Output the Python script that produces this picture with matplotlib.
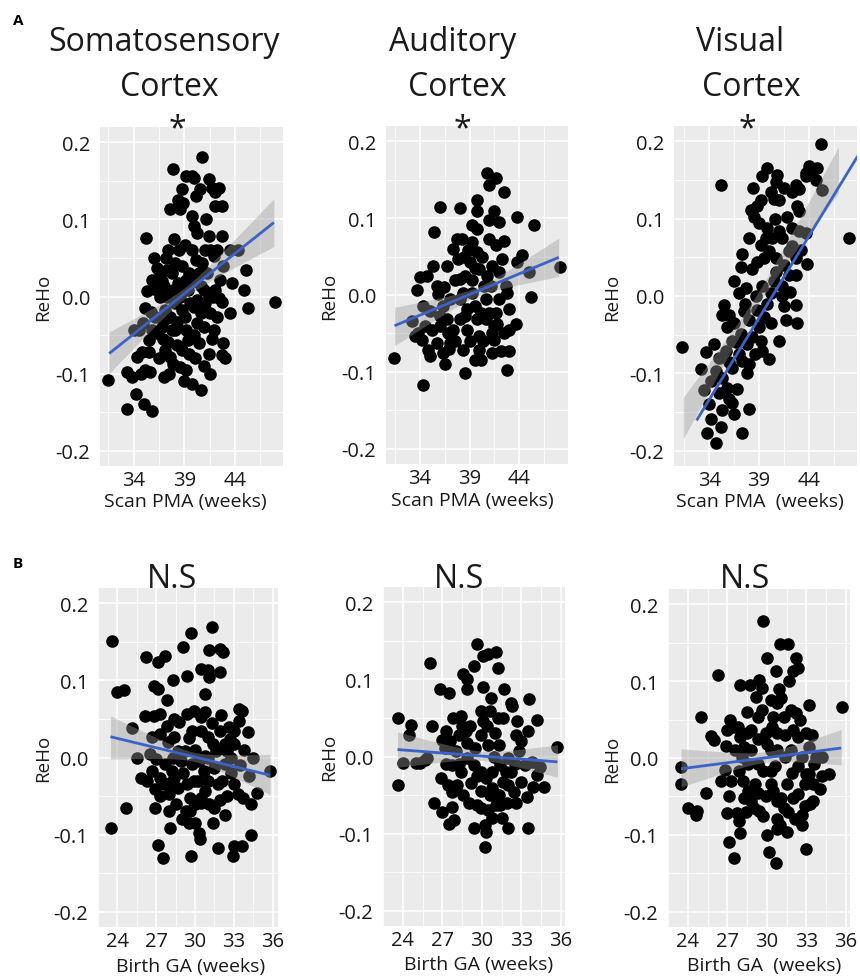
import numpy as np
import matplotlib
matplotlib.use('Agg')
import matplotlib.pyplot as plt

plt.rcParams['font.family'] = ['Open Sans', 'DejaVu Sans']

# (age in weeks, ReHo)
soma_pma = np.array([
    (31.5, -0.109), (33.3, -0.146), (34.2, -0.126), (35.0, -0.139), (35.8, -0.149), (33.3, -0.098),
    (33.8, -0.104), (34.3, -0.078), (34.8, -0.072), (35.5, -0.072), (35.1, -0.096), (35.6, -0.098),
    (34.0, -0.043), (34.5, -0.043), (35.1, -0.015), (35.3, 0.007), (35.8, 0.022), (35.2, 0.076),
    (36.0, 0.050), (36.3, 0.037), (36.3, 0.013), (36.6, 0.000), (36.1, -0.026), (36.3, -0.048),
    (37.0, -0.104), (37.1, -0.070), (37.4, -0.059), (37.6, -0.078), (37.4, 0.061), (37.6, 0.113),
    (37.9, 0.165), (37.9, 0.009), (37.8, 0.030), (38.1, -0.009), (38.3, -0.033), (38.1, -0.043),
    (38.3, -0.063), (37.9, -0.087), (38.6, -0.091), (38.8, 0.139), (38.6, 0.113), (38.9, 0.122),
    (39.1, 0.067), (39.2, 0.157), (39.2, 0.022), (38.8, 0.039), (39.4, 0.009), (39.1, -0.026),
    (39.2, -0.043), (39.4, -0.057), (39.2, -0.096), (39.7, 0.157), (39.9, 0.154), (40.1, 0.130),
    (39.7, 0.104), (39.9, 0.091), (40.2, 0.083), (39.7, 0.061), (40.1, 0.048), (40.4, 0.030),
    (40.6, 0.013), (40.2, -0.004), (39.9, -0.013), (40.2, -0.035), (39.9, -0.050), (39.7, -0.113),
    (40.6, -0.122), (40.7, 0.181), (41.4, 0.152), (41.7, 0.141), (42.4, 0.141), (42.0, 0.117),
    (42.7, 0.117), (41.4, 0.078), (41.5, 0.061), (41.2, 0.030), (41.9, 0.052), (41.4, 0.000),
    (41.0, -0.009), (41.5, -0.022), (41.4, -0.074), (41.5, -0.100), (41.9, -0.043), (42.0, 0.009),
    (42.5, 0.022), (42.7, 0.078), (42.4, -0.002), (42.7, -0.007), (42.8, -0.061), (42.7, -0.076),
    (42.8, 0.039), (43.5, 0.061), (43.5, -0.022), (43.7, 0.017), (44.3, 0.061), (45.1, 0.035),
    (44.9, 0.009), (45.3, -0.015), (47.9, -0.007), (36.6, 0.030), (37.0, 0.013), (37.3, 0.000),
    (37.1, -0.017), (37.6, -0.026), (37.8, -0.043), (36.8, -0.039), (35.8, -0.043), (35.5, -0.057),
    (38.6, 0.000), (38.8, -0.017), (39.6, -0.009), (40.9, 0.009), (40.6, -0.022), (40.9, -0.039),
    (42.2, -0.026), (40.7, 0.043), (41.0, 0.061), (38.9, 0.009), (38.4, 0.017), (38.1, 0.043),
    (37.3, 0.035), (36.0, 0.010), (36.8, 0.020), (37.2, 0.050), (38.5, 0.060), (38.0, 0.075),
    (39.5, 0.030), (40.0, 0.020), (40.4, -0.060), (40.0, -0.080), (38.8, -0.070), (37.5, -0.100),
    (39.0, -0.110), (41.8, 0.000), (42.2, 0.060), (41.1, 0.100), (40.5, 0.140), (36.9, -0.055),
    (34.9, -0.035), (35.7, -0.020), (34.7, -0.100), (36.5, -0.080), (41.7, -0.055), (43.0, -0.080),
    (42.0, 0.135), (38.4, 0.125), (39.5, -0.075), (37.0, -0.030), (40.9, -0.090),
])

audi_pma = np.array([
    (31.4, -0.082), (34.3, -0.117), (36.0, 0.115), (38.0, 0.113), (35.4, 0.082), (33.7, 0.006),
    (34.0, 0.023), (34.7, 0.025), (35.3, 0.038), (33.2, -0.034), (33.5, -0.053), (34.2, -0.058),
    (34.8, -0.071), (35.7, -0.062), (36.3, -0.075), (36.5, -0.090), (35.0, -0.021), (35.7, 0.012),
    (35.8, 0.001), (36.7, 0.038), (37.7, 0.073), (38.2, 0.073), (37.8, 0.047), (38.0, 0.021),
    (37.0, -0.005), (36.7, -0.031), (37.3, -0.045), (37.0, -0.062), (38.5, -0.101), (38.3, -0.071),
    (38.7, -0.045), (38.5, 0.025), (39.0, 0.043), (39.2, 0.069), (38.8, 0.058), (39.2, 0.091),
    (39.8, 0.086), (39.7, 0.124), (39.8, 0.110), (39.7, 0.056), (40.0, 0.034), (39.2, 0.003),
    (39.5, -0.014), (39.7, -0.031), (40.2, -0.023), (40.0, -0.053), (40.0, -0.071), (40.2, -0.084),
    (40.8, 0.159), (41.0, 0.143), (41.7, 0.152), (42.5, 0.134), (41.0, 0.097), (42.0, 0.095),
    (41.0, 0.073), (41.7, 0.065), (42.3, 0.047), (41.3, 0.038), (41.2, 0.012), (40.7, -0.005),
    (41.0, -0.023), (41.7, -0.023), (41.8, -0.038), (41.3, -0.049), (41.5, -0.058), (41.3, -0.075),
    (42.2, -0.073), (43.0, -0.073), (42.8, -0.097), (43.0, -0.045), (43.7, -0.038), (42.7, 0.012),
    (42.8, 0.003), (43.8, 0.102), (44.3, 0.052), (43.8, 0.043), (45.0, 0.030), (45.2, -0.003),
    (45.5, 0.091), (48.1, 0.036), (38.0, -0.005), (38.7, -0.018), (38.0, -0.031), (38.5, -0.027),
    (40.7, -0.031), (40.5, 0.012), (42.0, -0.005), (43.0, -0.018), (38.3, 0.003), (36.3, -0.014),
    (34.3, -0.014), (36.0, -0.027), (35.2, -0.045), (36.0, -0.040), (36.8, -0.050), (37.5, -0.060),
    (37.5, 0.020), (37.3, 0.060), (38.4, 0.050), (39.5, 0.035), (40.3, 0.050), (40.4, -0.060),
    (41.5, -0.040), (42.0, 0.030), (42.5, 0.070), (39.0, -0.060), (39.5, -0.085), (35.0, -0.080),
    (34.5, -0.040), (33.8, -0.050), (36.4, 0.010), (40.8, 0.025), (41.5, 0.110), (42.5, -0.050),
    (39.2, 0.020), (36.9, -0.070),
])

visu_pma = np.array([
    (31.3, -0.066), (35.2, 0.144), (45.2, 0.197), (48.0, 0.075), (45.3, 0.137), (44.0, 0.168),
    (44.3, 0.164), (43.7, 0.159), (44.8, 0.166), (43.7, 0.155), (42.7, 0.144), (43.0, 0.139),
    (42.3, 0.135), (42.8, 0.117), (39.8, 0.166), (39.3, 0.155), (40.8, 0.157), (40.7, 0.148),
    (40.2, 0.135), (40.5, 0.126), (41.0, 0.124), (38.2, 0.111), (38.8, 0.117), (39.2, 0.124),
    (38.5, 0.102), (41.8, 0.102), (42.3, 0.088), (43.0, 0.084), (43.7, 0.082), (39.8, 0.088),
    (39.7, 0.075), (39.2, 0.066), (40.3, 0.075), (41.0, 0.084), (41.3, 0.075), (40.0, 0.058),
    (39.5, 0.049), (40.7, 0.049), (42.0, 0.058), (42.7, 0.049), (43.8, 0.042), (37.3, 0.055),
    (37.2, 0.038), (38.3, 0.035), (38.8, 0.044), (40.7, 0.031), (41.3, 0.013), (42.0, 0.027),
    (42.7, 0.027), (37.0, 0.004), (37.7, 0.011), (38.7, 0.000), (39.3, 0.013), (40.2, 0.004),
    (41.3, 0.000), (41.5, -0.013), (42.7, -0.011), (41.7, -0.031), (42.8, -0.035), (35.5, -0.011),
    (35.3, -0.024), (36.0, -0.024), (36.5, -0.035), (37.5, -0.020), (38.0, -0.031), (38.8, -0.018),
    (39.5, -0.027), (40.2, -0.035), (37.2, -0.049), (36.3, -0.058), (35.7, -0.071), (37.8, -0.062),
    (38.3, -0.053), (39.2, -0.058), (39.3, -0.071), (41.0, -0.058), (40.0, -0.082), (38.0, -0.088),
    (37.3, -0.084), (34.5, -0.062), (33.7, -0.073), (33.2, -0.095), (33.5, -0.122), (34.7, -0.097),
    (35.3, -0.106), (35.8, -0.119), (36.0, -0.133), (35.0, -0.126), (34.2, -0.159), (33.8, -0.177),
    (34.7, -0.190), (35.3, -0.148), (36.3, -0.139), (36.5, -0.153), (38.0, -0.146), (37.3, -0.177),
    (36.3, -0.093), (37.0, -0.075), (36.7, -0.060), (36.0, -0.085), (35.0, -0.080), (34.2, -0.110),
    (34.0, -0.140), (35.2, -0.170), (36.8, -0.120), (37.8, -0.100), (38.6, -0.075), (39.0, -0.040),
    (39.8, -0.010), (40.5, 0.020), (41.5, 0.040), (42.3, 0.065), (43.0, 0.110), (41.5, 0.140),
    (39.0, 0.095), (38.0, 0.075), (36.5, 0.020), (37.6, -0.010), (40.6, 0.100), (42.1, 0.005),
    (43.2, 0.060), (44.7, 0.150), (38.4, 0.140), (35.8, -0.040),
])

soma_ga = np.array([
    (23.6, 0.151), (23.5, -0.092), (24.0, 0.085), (24.5, 0.088), (25.1, 0.038), (25.5, 0.000),
    (25.8, -0.026), (24.7, -0.066), (26.2, 0.130), (26.1, 0.054), (27.1, 0.124), (27.7, 0.132),
    (26.8, 0.093), (27.1, 0.089), (27.8, 0.074), (28.3, 0.100), (29.1, 0.143), (29.7, 0.161),
    (29.4, 0.106), (31.3, 0.169), (31.1, 0.139), (31.9, 0.141), (32.2, 0.137), (30.5, 0.115),
    (31.0, 0.113), (31.1, 0.105), (31.9, 0.111), (30.8, 0.082), (26.8, 0.054), (27.3, 0.056),
    (26.7, 0.026), (27.3, 0.030), (27.8, 0.041), (28.4, 0.050), (28.8, 0.046), (28.4, 0.026),
    (29.4, 0.056), (29.9, 0.061), (30.5, 0.052), (30.8, 0.059), (29.8, 0.035), (30.5, 0.035),
    (31.0, 0.026), (31.4, 0.017), (31.9, 0.035), (32.7, 0.024), (32.5, 0.009), (33.0, 0.017),
    (33.4, 0.063), (33.6, 0.061), (33.4, 0.048), (34.1, 0.033), (26.3, -0.030), (26.7, -0.017),
    (26.9, -0.041), (27.3, -0.026), (27.6, -0.035), (28.0, -0.048), (28.1, -0.033), (28.4, -0.026),
    (28.7, -0.039), (26.9, -0.065), (27.0, -0.002), (27.7, -0.009), (28.3, 0.000), (28.9, -0.004),
    (29.2, 0.009), (29.8, -0.009), (30.3, -0.004), (30.7, -0.017), (31.0, 0.000), (31.5, -0.013),
    (29.4, -0.035), (29.9, -0.030), (29.6, -0.052), (29.6, -0.069), (29.3, -0.069), (29.5, -0.085),
    (30.0, -0.085), (30.3, -0.098), (30.4, -0.106), (30.5, -0.052), (30.8, -0.043), (30.5, -0.059),
    (31.1, -0.061), (31.5, -0.065), (31.4, -0.085), (31.8, -0.117), (29.7, -0.128), (27.5, -0.131),
    (27.1, -0.113), (28.1, -0.091), (31.8, -0.035), (32.1, -0.030), (32.3, -0.009), (32.8, 0.000),
    (33.0, -0.035), (33.3, -0.048), (33.7, -0.052), (34.2, -0.024), (34.3, -0.061), (34.8, -0.046),
    (34.3, -0.100), (33.0, -0.115), (33.6, -0.115), (32.9, -0.128), (35.8, -0.017), (31.6, 0.009),
    (32.3, 0.017), (28.7, 0.009), (28.2, -0.017), (28.5, -0.060), (29.0, -0.080), (30.0, -0.060),
    (30.2, -0.030), (31.0, -0.030), (32.5, -0.050), (32.8, -0.020), (33.5, -0.010), (33.8, 0.010),
    (34.5, 0.000), (29.5, 0.025), (30.0, 0.010), (31.3, 0.045), (32.0, 0.055), (27.9, 0.020),
    (26.5, 0.005), (27.3, -0.050), (28.0, -0.070), (32.3, -0.075), (33.0, 0.035), (30.8, 0.002),
    (29.1, -0.020), (31.9, -0.055), (32.6, 0.040),
])

audi_ga = np.array([
    (23.6, 0.050), (23.6, -0.037), (24.0, -0.009), (24.6, 0.041), (24.5, 0.028), (25.0, -0.009),
    (25.3, -0.009), (25.7, -0.004), (25.8, -0.002), (26.1, 0.122), (26.2, 0.039), (26.4, -0.061),
    (26.8, 0.087), (27.5, 0.083), (27.0, -0.072), (27.5, -0.087), (27.9, -0.083), (27.7, -0.065),
    (27.3, 0.033), (27.0, 0.022), (27.2, 0.011), (26.9, -0.028), (27.4, -0.037), (27.7, -0.046),
    (28.1, -0.037), (27.8, 0.050), (28.4, 0.052), (28.3, 0.028), (28.8, 0.033), (28.9, 0.017),
    (28.0, 0.007), (27.7, -0.011), (28.4, -0.020), (28.6, 0.107), (28.9, 0.100), (28.9, 0.087),
    (29.4, 0.117), (29.6, 0.146), (30.1, 0.130), (30.5, 0.133), (31.1, 0.135), (31.2, 0.115),
    (29.9, 0.059), (30.1, 0.046), (30.6, 0.059), (30.7, 0.076), (31.2, 0.050), (31.7, 0.087),
    (32.2, 0.070), (32.3, 0.065), (32.7, 0.046), (32.6, 0.028), (33.6, 0.074), (33.5, 0.033),
    (34.2, 0.048), (29.5, 0.011), (29.9, 0.028), (30.5, 0.015), (31.3, 0.015), (29.4, -0.011),
    (29.9, -0.020), (30.3, -0.028), (30.8, -0.020), (31.4, -0.011), (32.0, -0.002), (32.8, 0.007),
    (33.3, -0.011), (33.8, -0.007), (34.4, -0.013), (34.2, -0.024), (30.8, -0.041), (31.3, -0.050),
    (31.6, -0.033), (30.6, -0.050), (31.1, -0.063), (31.4, -0.063), (30.8, -0.080), (29.6, -0.063),
    (29.2, -0.035), (29.9, -0.067), (29.4, -0.093), (30.2, -0.089), (30.3, -0.098), (30.2, -0.117),
    (32.0, -0.093), (32.4, -0.046), (33.0, -0.033), (33.4, -0.052), (33.5, -0.093), (34.7, -0.040),
    (35.7, 0.012), (32.0, -0.037), (31.8, -0.020), (28.9, -0.002), (28.6, -0.050), (29.0, -0.060),
    (29.9, -0.045), (30.5, -0.070), (31.9, -0.060), (32.2, -0.020), (32.5, -0.010), (33.0, 0.020),
    (31.0, 0.030), (30.4, 0.040), (31.6, 0.050), (28.5, 0.040), (27.6, 0.020), (28.3, -0.010),
    (29.1, 0.040), (30.9, 0.000), (31.5, -0.080), (32.6, -0.060), (33.9, -0.040), (30.1, 0.090),
    (27.3, -0.010), (29.6, -0.025),
])

visu_ga = np.array([
    (23.5, -0.012), (23.5, -0.034), (24.0, -0.065), (24.6, -0.074), (24.7, -0.069), (25.0, 0.054),
    (25.4, -0.045), (25.8, 0.029), (26.0, 0.023), (26.3, 0.108), (26.5, -0.030), (26.9, 0.016),
    (27.0, 0.036), (27.2, 0.049), (27.5, 0.040), (27.1, -0.050), (27.0, -0.071), (27.1, -0.109),
    (27.5, -0.130), (27.7, -0.071), (27.9, -0.082), (28.0, -0.098), (28.0, 0.095), (28.7, 0.095),
    (27.6, 0.010), (28.1, 0.001), (28.3, 0.014), (28.6, -0.008), (27.9, -0.017), (28.2, -0.030),
    (28.6, -0.043), (28.0, 0.027), (28.5, 0.032), (28.8, 0.036), (29.3, 0.054), (29.6, 0.062),
    (29.4, 0.102), (29.6, 0.091), (30.0, 0.130), (29.7, 0.178), (30.7, 0.113), (31.0, 0.148),
    (31.6, 0.148), (32.2, 0.130), (32.4, 0.117), (32.0, 0.113), (33.2, 0.069), (35.7, 0.067),
    (30.3, 0.075), (30.8, 0.071), (31.1, 0.078), (30.5, 0.054), (31.3, 0.054), (31.8, 0.062),
    (32.2, 0.058), (32.0, 0.036), (32.4, 0.027), (33.0, 0.032), (29.9, 0.032), (30.0, 0.018),
    (30.3, 0.010), (30.8, 0.032), (30.8, 0.010), (31.4, 0.001), (31.8, 0.010), (32.7, 0.001),
    (33.2, 0.014), (33.7, 0.001), (34.2, 0.001), (34.7, -0.021), (33.6, -0.008), (33.0, -0.021),
    (33.5, -0.034), (32.9, -0.034), (32.4, -0.047), (32.0, -0.052), (31.5, -0.034), (31.1, -0.052),
    (31.3, -0.065), (30.8, -0.056), (30.3, -0.034), (30.3, -0.017), (29.7, -0.017), (29.3, -0.008),
    (29.1, -0.034), (28.3, -0.052), (28.8, -0.056), (29.0, -0.065), (29.4, -0.069), (29.7, -0.076),
    (30.5, -0.043), (30.8, -0.080), (30.8, -0.093), (31.0, -0.087), (31.5, -0.096), (30.2, -0.122),
    (30.7, -0.137), (32.7, -0.087), (32.7, -0.074), (33.0, -0.118), (33.5, -0.056), (34.2, -0.023),
    (32.9, -0.063), (33.2, -0.021), (28.8, 0.010), (29.3, 0.025), (30.4, 0.040), (31.4, 0.030),
    (31.9, -0.020), (32.4, -0.010), (33.4, 0.030), (34.0, -0.040), (33.3, -0.060), (32.1, -0.080),
    (31.6, -0.070), (29.9, -0.050), (29.3, -0.045), (28.4, -0.070), (30.0, -0.100), (29.2, 0.080),
    (30.9, 0.090), (31.7, 0.100), (32.5, 0.050), (27.8, 0.040), (28.5, 0.060), (30.6, -0.010),
    (26.8, -0.015), (27.3, -0.030),
])

# lm fit: x start, y start, x end, y end
soma_pma_line = [31.58, -0.074, 47.82, 0.096]
audi_pma_line = [31.43, -0.040, 48.00, 0.049]
visu_pma_line = [32.73, -0.161, 48.90, 0.181]
soma_ga_line = [23.46, 0.027, 35.80, -0.023]
audi_ga_line = [23.60, 0.009, 35.73, -0.007]
visu_ga_line = [23.49, -0.014, 35.64, 0.013]

# confidence band: x start, x end, centre start, centre end, half width start, half width end, narrowest half width
soma_pma_band = [31.58, 47.82, -0.073, 0.096, 0.027, 0.031, 0.007]
audi_pma_band = [31.43, 48.00, -0.041, 0.049, 0.025, 0.025, 0.006]
visu_pma_band = [31.40, 46.97, -0.158, 0.163, 0.027, 0.030, 0.008]
soma_ga_band = [23.46, 35.80, 0.026, -0.022, 0.028, 0.026, 0.006]
audi_ga_band = [23.60, 35.73, 0.009, -0.006, 0.023, 0.021, 0.006]
visu_ga_band = [23.49, 35.64, -0.013, 0.014, 0.025, 0.023, 0.007]

pma_ticks = [34, 39, 44]
pma_minor = [31.5, 36.5, 41.5, 46.5]
ga_ticks = [24, 27, 30, 33, 36]
ga_minor = [22.5, 25.5, 28.5, 31.5, 34.5]
y_ticks = [-0.2, -0.1, 0.0, 0.1, 0.2]
y_tick_labels = ['-0.2', '-0.1', '0.0', '0.1', '0.2']
y_minor = [-0.15, -0.05, 0.05, 0.15]

FIG_W, FIG_H = 860, 978


def ci_band(band, n=80):
    x0, x1, c0, c1, h0, h1, hmin = band
    a0 = np.sqrt(h0**2 - hmin**2)
    a1 = np.sqrt(h1**2 - hmin**2)
    xm = x0 + (x1 - x0) * a0 / (a0 + a1)
    k = (a0 + a1) / (x1 - x0)
    xs = np.linspace(x0, x1, n)
    c = c0 + (c1 - c0) * (xs - x0) / (x1 - x0)
    h = np.sqrt(hmin**2 + k**2 * (xs - xm)**2)
    return xs, c - h, c + h


def fig_text(fig, x, y, s, **kw):
    # x, y in pixels from the top left
    fig.text(x / FIG_W, 1 - y / FIG_H, s, **kw)


def draw_panel(fig, box, pts, line, band, xticks, xminor, xlabel, xlabel_xy, ylabel_x):
    l, t, r, b = box
    w, h = r - l, b - t
    ax = fig.add_axes([l / FIG_W, 1 - b / FIG_H, w / FIG_W, h / FIG_H])
    ax.set_facecolor('#EBEBEB')
    for sp in ax.spines.values():
        sp.set_visible(False)

    ax.scatter(pts[:, 0], pts[:, 1], s=82, c='black', linewidths=0, zorder=2)
    xs, lo, hi = ci_band(band)
    ax.fill_between(xs, lo, hi, color='#999999', alpha=0.4, linewidth=0, zorder=3)
    ax.plot([line[0], line[2]], [line[1], line[3]], color='#3B62C9', lw=2, zorder=4, solid_capstyle='butt')

    xmin, xmax = pts[:, 0].min(), pts[:, 0].max()
    pad = 0.05 * (xmax - xmin)
    ax.set_xlim(xmin - pad, xmax + pad)
    ax.set_ylim(-0.22, 0.22)

    ax.set_xticks(xticks)
    ax.set_xticklabels([str(v) for v in xticks])
    ax.set_xticks(xminor, minor=True)
    ax.set_yticks(y_ticks)
    ax.set_yticklabels(y_tick_labels)
    ax.set_yticks(y_minor, minor=True)
    ax.grid(which='major', color='white', lw=1.1)
    ax.grid(which='minor', color='white', lw=0.6)
    ax.set_axisbelow(True)
    ax.tick_params(which='both', length=0, colors='#1a1a1a', labelsize=14.5)
    ax.tick_params(axis='y', pad=7)
    ax.tick_params(axis='x', pad=3)

    ax.set_ylabel('ReHo', fontsize=13.5, color='#1a1a1a', va='center')
    ax.yaxis.set_label_coords((ylabel_x - l) / w, 0.5)
    ax.set_xlabel(xlabel, fontsize=14, color='#1a1a1a', va='center')
    ax.xaxis.set_label_coords((xlabel_xy[0] - l) / w, -(xlabel_xy[1] - b) / h)
    return ax


fig = plt.figure(figsize=(FIG_W / 100, FIG_H / 100), dpi=100)

draw_panel(fig, (100, 128, 283, 467), soma_pma, soma_pma_line, soma_pma_band,
           pma_ticks, pma_minor, 'Scan PMA (weeks)', (185, 502), 43)
draw_panel(fig, (386, 127, 568, 465), audi_pma, audi_pma_line, audi_pma_band,
           pma_ticks, pma_minor, 'Scan PMA (weeks)', (472, 501), 329)
draw_panel(fig, (674, 127, 857, 467), visu_pma, visu_pma_line, visu_pma_band,
           pma_ticks, pma_minor, 'Scan PMA  (weeks)', (760, 502), 612)
draw_panel(fig, (98, 589, 278, 928), soma_ga, soma_ga_line, soma_ga_band,
           ga_ticks, ga_minor, 'Birth GA (weeks)', (191, 967), 43)
draw_panel(fig, (383, 588, 565, 927), audi_ga, audi_ga_line, audi_ga_band,
           ga_ticks, ga_minor, 'Birth GA (weeks)', (479, 965), 329)
draw_panel(fig, (668, 590, 850, 928), visu_ga, visu_ga_line, visu_ga_band,
           ga_ticks, ga_minor, 'Birth GA  (weeks)', (764, 966), 612)

title_kw = dict(ha='center', va='baseline', fontsize=23, color='#1a1a1a')
fig_text(fig, 164, 51, 'Somatosensory', **title_kw)
fig_text(fig, 169, 96, 'Cortex', **title_kw)
fig_text(fig, 177, 138, '*', **title_kw)
fig_text(fig, 453, 51, 'Auditory', **title_kw)
fig_text(fig, 457, 96, 'Cortex', **title_kw)
fig_text(fig, 462, 138, '*', **title_kw)
fig_text(fig, 740, 51, 'Visual', **title_kw)
fig_text(fig, 751, 96, 'Cortex', **title_kw)
fig_text(fig, 747, 138, '*', **title_kw)

for cx in (172, 459, 745):
    fig_text(fig, cx, 588, 'N.S', **title_kw)

fig_text(fig, 13, 25, 'A', fontsize=11, fontweight='bold', va='baseline')
fig_text(fig, 13, 568, 'B', fontsize=11, fontweight='bold', va='baseline')

fig.savefig('out.png', dpi=100)
